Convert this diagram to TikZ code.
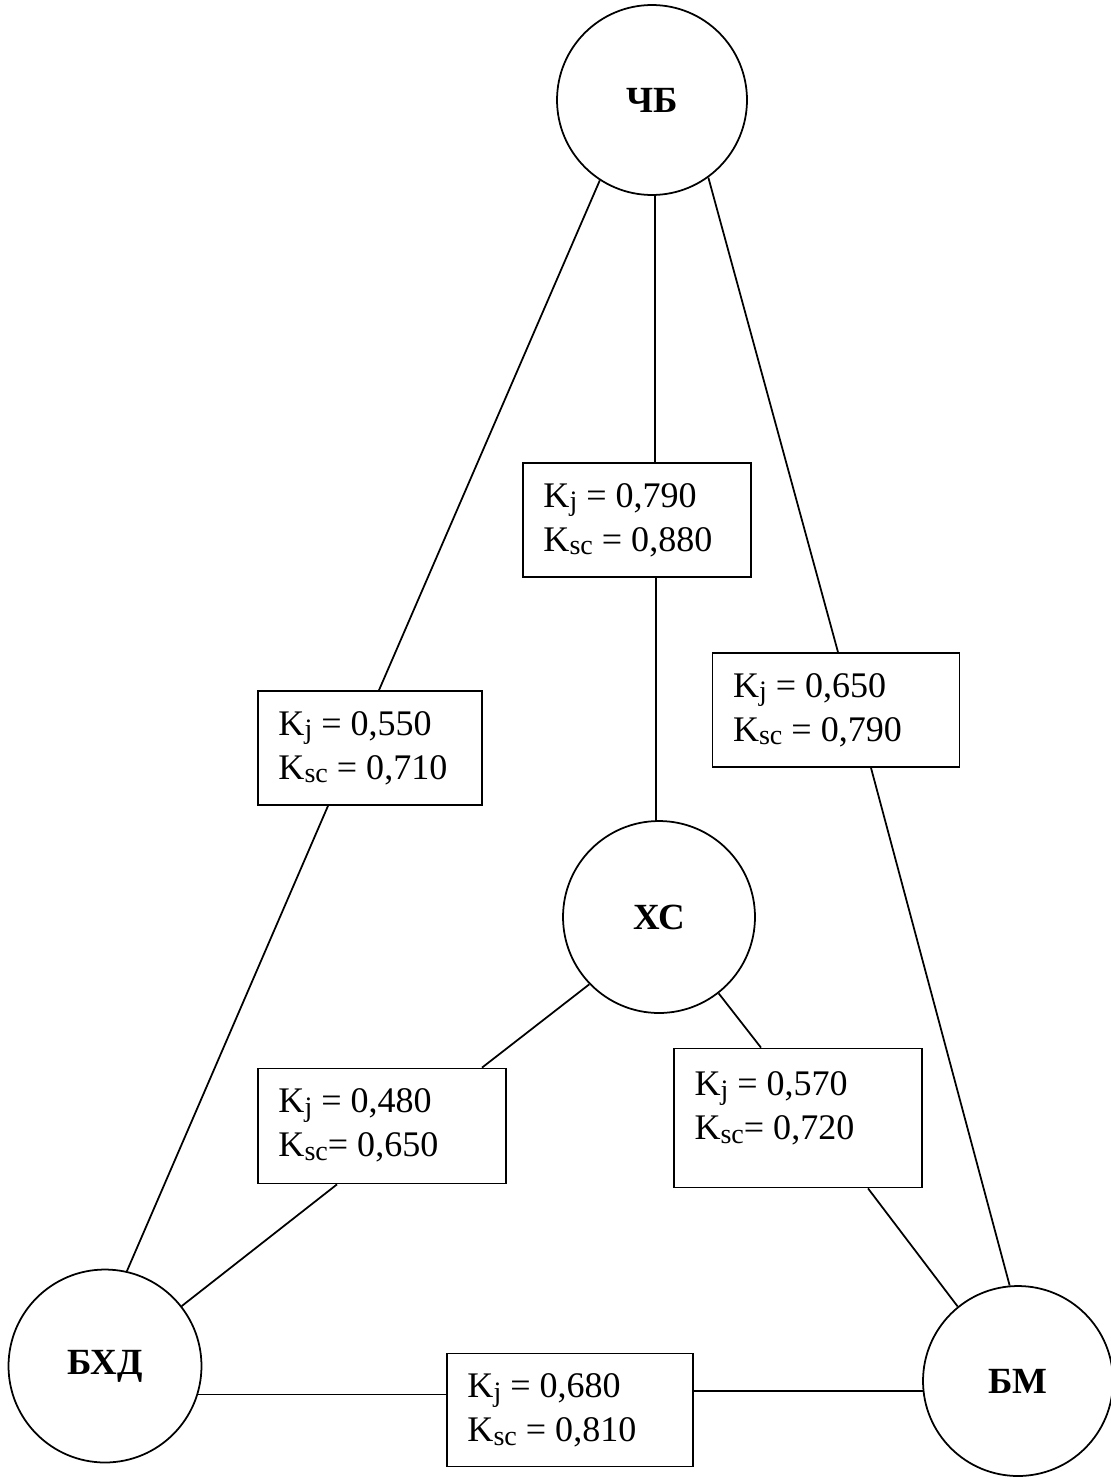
\documentclass[tikz,border=0pt]{standalone}
\usepackage{fontspec}
\setmainfont{Liberation Serif}
\usetikzlibrary{calc}
\newcommand{\ksub}[1]{\raisebox{-2pt}{\fontsize{16}{16}\selectfont #1}}
\tikzset{
  node_circ/.style={circle,draw,line width=1pt,minimum size=3.84cm,inner sep=0pt,
    font=\fontsize{21}{25}\selectfont\bfseries},
  node_kbox/.style={draw,line width=1pt,inner sep=0pt},
  node_ktext/.style={anchor=north west,align=left,inner sep=0pt,xshift=0.42cm,yshift=-0.42cm,
    font=\fontsize{20.5}{25}\selectfont},
  conn/.style={line width=1pt},
}

\begin{document}
\begin{tikzpicture}[x=0.02cm,y=-0.02cm]
  \useasboundingbox (0,0) rectangle (1110,1477);

  % units
  \node[node_circ,minimum size=3.8cm] (chb) at (652,100) {ЧБ};
  \node[node_circ] (xc) at (659,917) {ХС};
  \node[node_circ,minimum size=3.86cm] (bxd) at (105,1366) {БХД};
  \node[node_circ,minimum size=3.8cm] (bm) at (1018,1381) {БМ};

  % coefficient boxes
  \node[node_kbox,minimum width=4.56cm,minimum height=2.28cm] (b1) at (637,520) {};
  \node[node_kbox,minimum width=4.48cm,minimum height=2.28cm] (b2) at (370,748) {};
  \node[node_kbox,minimum width=4.94cm,minimum height=2.28cm] (b3) at (836,710) {};
  \node[node_kbox,minimum width=4.96cm,minimum height=2.30cm] (b4) at (382,1126) {};
  \node[node_kbox,minimum width=4.96cm,minimum height=2.78cm] (b5) at (798,1118) {};
  \node[node_kbox,minimum width=4.92cm,minimum height=2.26cm] (b6) at (570,1410) {};

  \node[node_ktext] (t1) at (b1.north west) {K\ksub{j} = 0,790\\K\ksub{sc} = 0,880};
  \node[node_ktext] (t2) at (b2.north west) {K\ksub{j} = 0,550\\K\ksub{sc} = 0,710};
  \node[node_ktext] (t3) at (b3.north west) {K\ksub{j} = 0,650\\K\ksub{sc} = 0,790};
  \node[node_ktext] (t4) at (b4.north west) {K\ksub{j} = 0,480\\K\ksub{sc}= 0,650};
  \node[node_ktext,yshift=-0.06cm] (t5) at (b5.north west) {K\ksub{j} = 0,570\\K\ksub{sc}= 0,720};
  \node[node_ktext] (t6) at (b6.north west) {K\ksub{j} = 0,680\\K\ksub{sc} = 0,810};

  % links
  \draw[conn] (chb.-88) -- (chb.-88 |- b1.north);
  \draw[conn] (xc.92 |- b1.south) -- (xc.92);
  \draw[conn] (chb.-123) -- ($(b2.north)+(9,0)$);
  \draw[conn] ($(b2.south)+(-42,0)$) -- (bxd.77);
  \draw[conn] (chb.-54) -- ($(b3.north)+(2,0)$);
  \draw[conn] ($(b3.south)+(35,0)$) -- (bm.95);
  \draw[conn] (xc.-136) -- ($(b4.north)+(100,0)$);
  \draw[conn] ($(b4.south)+(-45,0)$) -- (bxd.38);
  \draw[conn] (xc.-52) -- ($(b5.north)+(-37,0)$);
  \draw[conn] ($(b5.south)+(70,0)$) -- (bm.129);
  \draw[conn] (bxd.-17) -- (bxd.-17 -| b6.west);
  \draw[conn] (bm.186 -| b6.east) -- (bm.186);
\end{tikzpicture}
\end{document}
